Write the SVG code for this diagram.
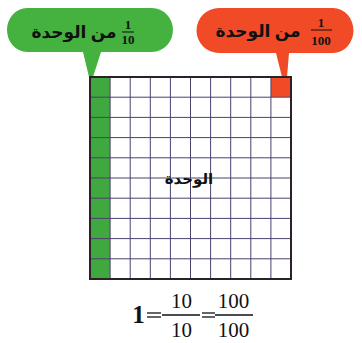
<svg xmlns="http://www.w3.org/2000/svg" width="362" height="343" viewBox="0 0 362 343">
<style>
.ar{font-family:"Noto Sans","DejaVu Sans",sans-serif;font-weight:bold;fill:#111}
.num{font-family:"Liberation Serif",serif;fill:#111}
.gl{stroke:#4a4170;stroke-width:1;fill:none}
.bar{stroke:#111;stroke-width:1.3}
</style>
<rect width="362" height="343" fill="#fff"/>
<g id="green-bubble">
<path d="M27,8 H152 A20,21 0 0 1 152,52 H101 L93,77 L89,77 L83,52 H27 A20,22 0 0 1 27,8 Z" fill="#45b23f"/>
<text class="ar" x="74" y="38" font-size="17" text-anchor="middle" direction="rtl">من الوحدة</text>
<text class="num" x="128" y="29" font-size="13" font-weight="bold" text-anchor="middle">1</text>
<line x1="122" y1="32" x2="134" y2="32" stroke="#111" stroke-width="1"/>
<text class="num" x="128" y="44" font-size="13" font-weight="bold" text-anchor="middle">10</text>
</g>
<g id="red-bubble">
<path d="M219,8 H333 A20,22 0 0 1 333,53 H289 L287,77 L282,77 L276,53 H219 A22,22 0 0 1 219,8 Z" fill="#f04a26"/>
<text class="ar" x="258" y="37" font-size="17" text-anchor="middle" direction="rtl">من الوحدة</text>
<text class="num" x="321" y="27" font-size="13" font-weight="bold" text-anchor="middle">1</text>
<line x1="311" y1="30" x2="332" y2="30" stroke="#111" stroke-width="1"/>
<text class="num" x="321" y="45" font-size="13" font-weight="bold" text-anchor="middle">100</text>
</g>
<g id="unit-grid">
<rect x="90" y="77" width="20.1" height="202" fill="#3fa83e"/>
<rect x="271" y="77" width="20" height="20" fill="#f04a26"/>
<path class="gl" d="M110.1,77V279M130.2,77V279M150.3,77V279M170.4,77V279M190.5,77V279M210.6,77V279M230.7,77V279M250.8,77V279M270.9,77V279M90,97.2H291M90,117.4H291M90,137.6H291M90,157.8H291M90,178H291M90,198.2H291M90,218.4H291M90,238.6H291M90,258.8H291"/>
<rect x="90" y="77" width="201" height="202" fill="none" stroke="#2a2228" stroke-width="2"/>
<text class="ar" x="189" y="184" font-size="15" text-anchor="middle" direction="rtl">الوحدة</text>
</g>
<g id="equation">
<text class="num" x="138.5" y="323" font-size="25" font-weight="bold" text-anchor="middle">1</text>
<line class="bar" x1="147" y1="313" x2="161" y2="313"/>
<line class="bar" x1="147" y1="317" x2="161" y2="317"/>
<line class="bar" x1="162" y1="315" x2="200" y2="315"/>
<text class="num" x="181.5" y="308" font-size="21" text-anchor="middle">10</text>
<text class="num" x="181.5" y="337" font-size="21" text-anchor="middle">10</text>
<line class="bar" x1="202" y1="313" x2="215" y2="313"/>
<line class="bar" x1="202" y1="317" x2="215" y2="317"/>
<line class="bar" x1="215" y1="315" x2="253" y2="315"/>
<text class="num" x="233.5" y="308" font-size="21" text-anchor="middle">100</text>
<text class="num" x="233.5" y="337" font-size="21" text-anchor="middle">100</text>
</g>
</svg>
